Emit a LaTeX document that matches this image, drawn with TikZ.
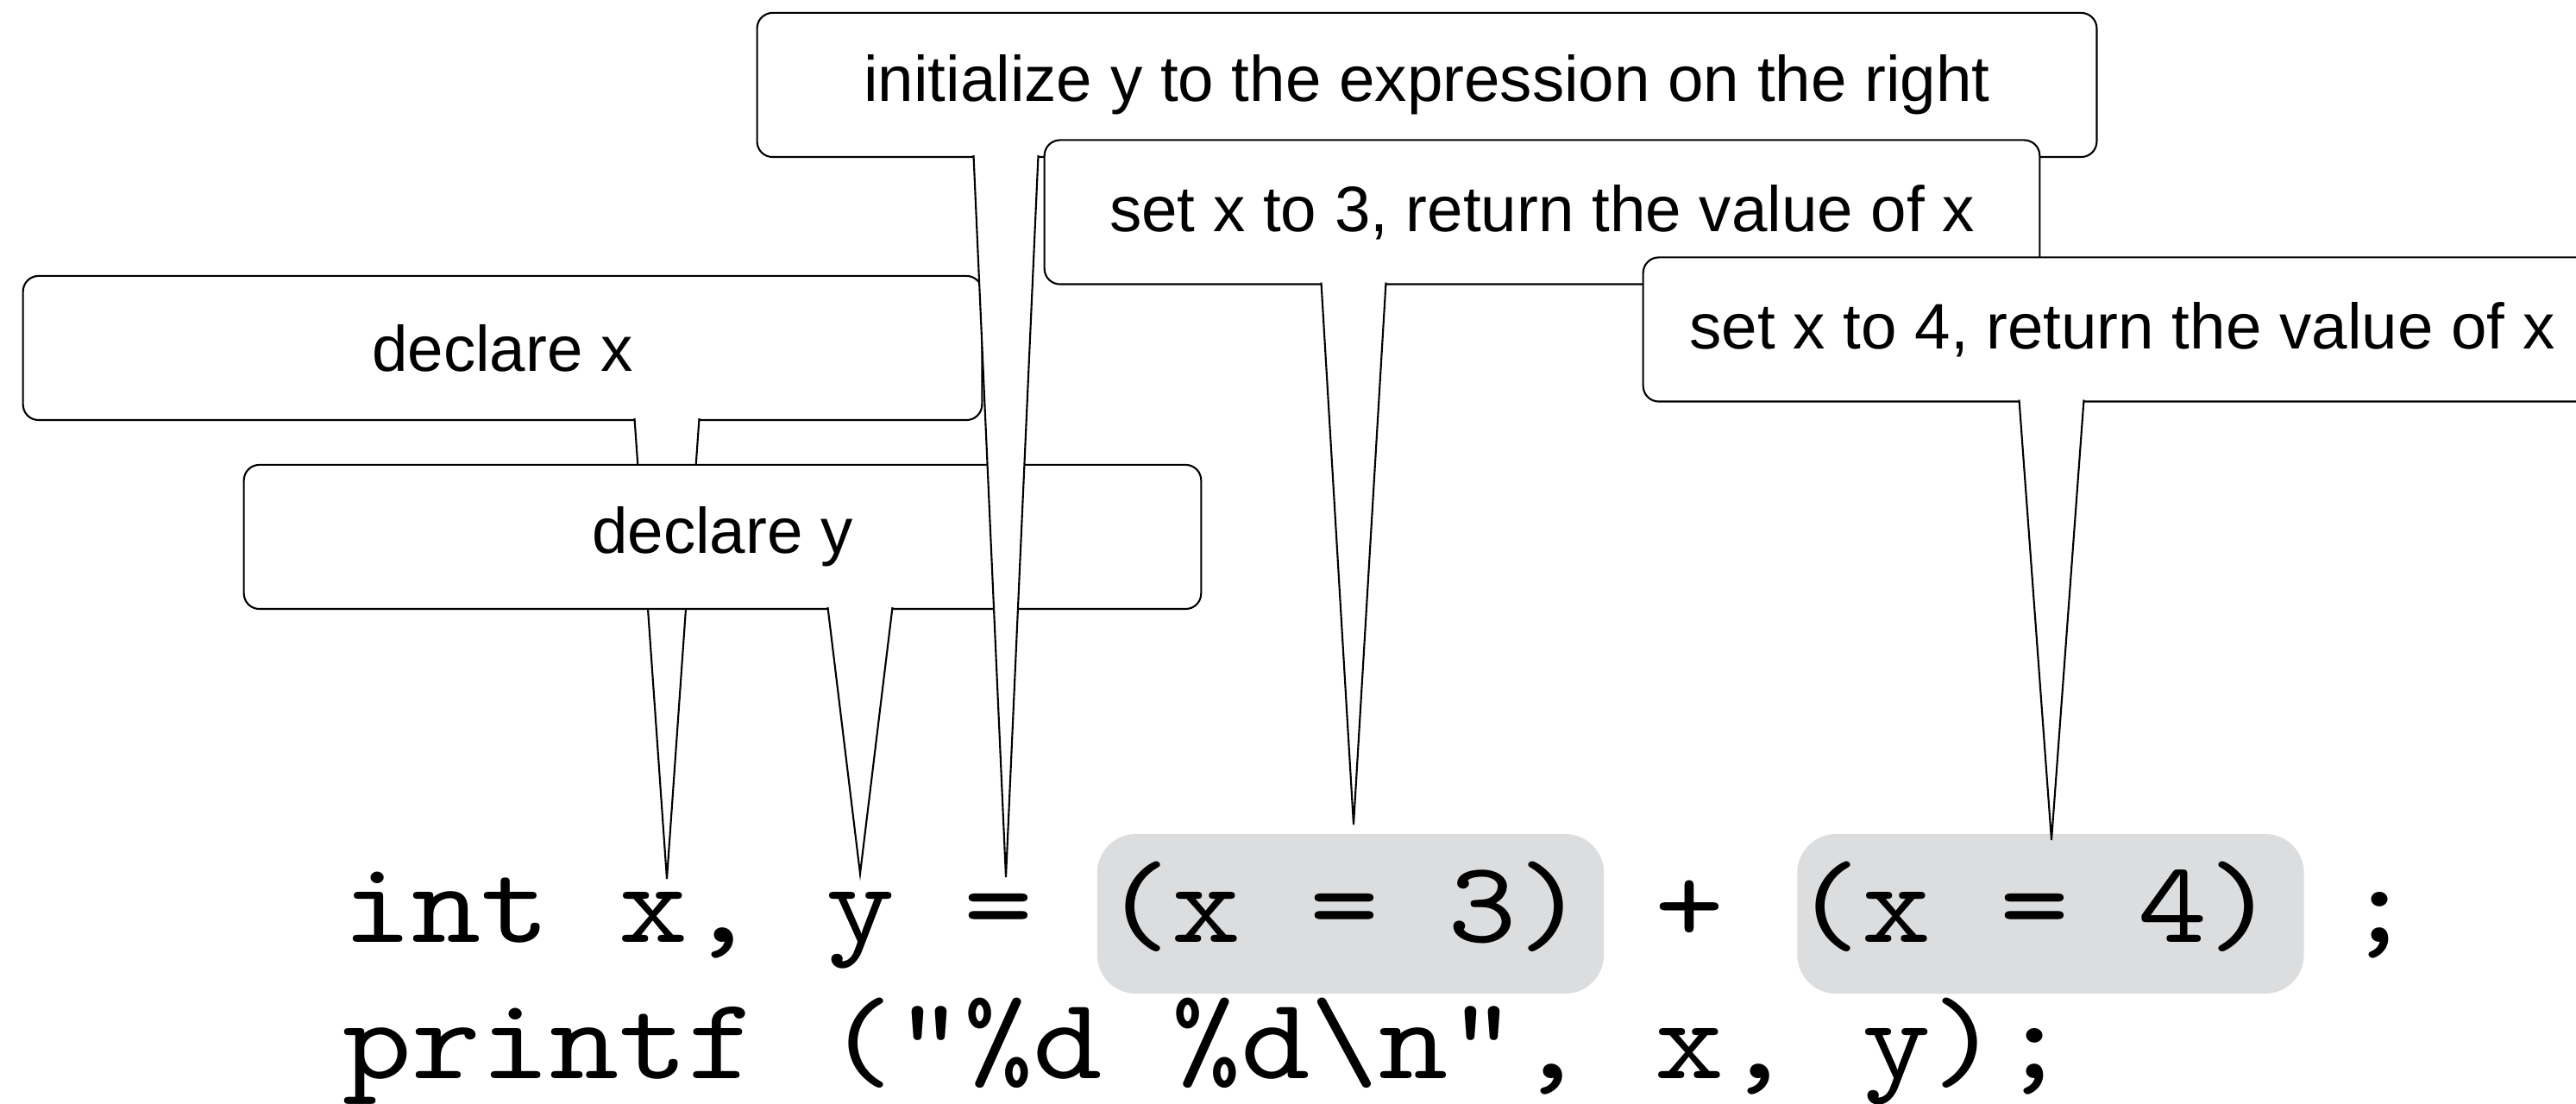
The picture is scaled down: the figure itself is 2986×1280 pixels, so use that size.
\documentclass[tikz,border=0pt]{standalone}
\usepackage{fontspec}
\setmainfont{Liberation Sans}
\setmonofont{lmmono10-regular.otf}[FakeStretch=1.132]
\usepackage{xcolor}
\usepackage{tikz}
\usetikzlibrary{calc}
\definecolor{codegray}{HTML}{DCDDDF}

\begin{document}
\begin{tikzpicture}[
    x=0.01cm, y=-0.01cm,
    note/.style = {rectangle, draw=black, fill=white, line width=0.6pt, rounded corners=0.18cm, minimum height=1.67cm, outer sep=0pt, inner sep=0pt, font=\fontsize{21.2}{25}\selectfont},
    hilite/.style = {rectangle, fill=codegray, rounded corners=0.45cm, minimum width=5.87cm, minimum height=1.85cm},
    code/.style = {anchor=base west, inner sep=0pt, font=\ttfamily\fontsize{38.3}{46}\selectfont},
    tail/.style = {draw=black, fill=white, line width=0.6pt}
]
\useasboundingbox (0,0) rectangle (2986,1280);

% Code and the two highlighted sub-expressions
\node (grpthree) [hilite] at (1565.5,1059.5) {};
\node (grpfour) [hilite] at (2377,1059.5) {};
\node (lineone) [code] at (397,1093) {int x, y = (x = 3) + (x = 4) ;};
\node (linetwo) [code] at (397,1251) {printf ("\%d \%d\textbackslash n", x, y);};

% Where the callouts point
\coordinate (atx) at (773,1019);
\coordinate (aty) at (997,1013);
\coordinate (atinit) at (1166,1017);
\coordinate (atthree) at (1569,956);
\coordinate (atfour) at (2378,974);

% Callouts, back to front
\node (declx) [note, minimum width=11.11cm] at (582.5,403.5) {declare x};
\filldraw [tail] ($(declx.south -| atx)+(-37.5,-2)$) -- (atx) -- ($(declx.south -| atx)+(37.5,-2)$);

\node (decly) [note, minimum width=11.09cm] at (837.5,622.5) {declare y};
\filldraw [tail] ($(decly.south -| aty)+(-37.5,-2)$) -- (aty) -- ($(decly.south -| aty)+(37.5,-2)$);

\node (init) [note, minimum width=15.52cm] at (1654,98.5) {initialize y to the expression on the right};
\filldraw [tail] ($(init.south -| atinit)+(-37.5,-2)$) -- (atinit) -- ($(init.south -| atinit)+(37.5,-2)$);

\node (setthree) [note, minimum width=11.53cm] at (1787.5,246) {set x to 3, return the value of x};
\filldraw [tail] ($(setthree.south -| atthree)+(-37.5,-2)$) -- (atthree) -- ($(setthree.south -| atthree)+(37.5,-2)$);

\node (setfour) [note, minimum width=11.10cm] at (2460,382) {set x to 4, return the value of x};
\filldraw [tail] ($(setfour.south -| atfour)+(-37.5,-2)$) -- (atfour) -- ($(setfour.south -| atfour)+(37.5,-2)$);

\end{tikzpicture}
\end{document}
